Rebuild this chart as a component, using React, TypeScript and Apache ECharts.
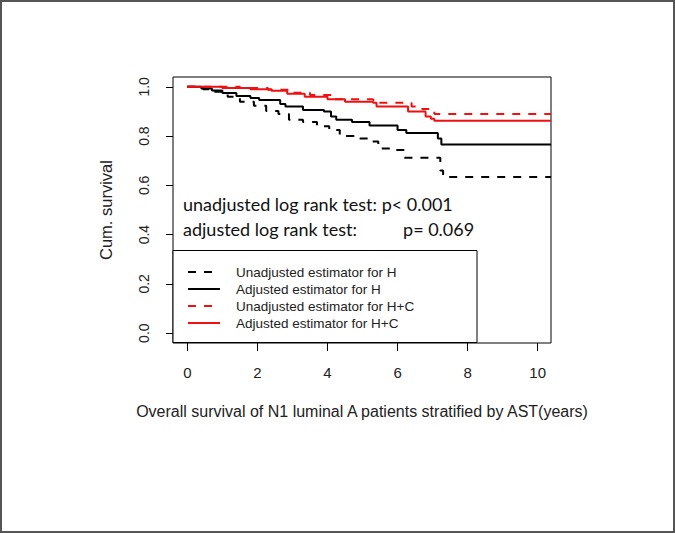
import React, { useEffect, useRef } from "react";
import * as echarts from "echarts";

// Kaplan-Meier style step curves (time in years, cumulative survival)
const unadjH_time = [0, 0.45, 0.78, 1.15, 1.5, 1.9, 2.25, 2.6, 2.9, 3.3, 3.7, 4.05, 4.35, 4.75, 5.2, 5.45, 5.8, 6.2, 7.22, 7.3, 10.38];
const unadjH_surv = [1.0, 0.99, 0.98, 0.96, 0.94, 0.923, 0.902, 0.89, 0.866, 0.857, 0.84, 0.825, 0.8, 0.79, 0.778, 0.75, 0.744, 0.712, 0.66, 0.634, 0.634];

const adjH_time = [0, 0.4, 0.7, 1.0, 1.4, 1.8, 2.05, 2.65, 2.8, 3.3, 3.9, 4.1, 4.25, 4.7, 5.2, 6.0, 6.25, 7.15, 7.25, 10.38];
const adjH_surv = [1.0, 0.993, 0.985, 0.975, 0.963, 0.955, 0.947, 0.93, 0.92, 0.906, 0.9, 0.88, 0.866, 0.857, 0.843, 0.825, 0.813, 0.79, 0.766, 0.766];

const unadjHC_time = [0, 1.5, 2.3, 2.9, 3.5, 4.2, 5.3, 5.45, 6.4, 6.7, 7.05, 10.38];
const unadjHC_surv = [1.0, 0.995, 0.988, 0.976, 0.967, 0.95, 0.947, 0.935, 0.92, 0.91, 0.89, 0.89];

const adjHC_time = [0, 1.0, 1.8, 2.4, 2.85, 3.35, 4.0, 4.5, 5.3, 5.4, 6.3, 6.8, 6.95, 7.05, 10.38];
const adjHC_surv = [1.0, 0.995, 0.99, 0.984, 0.972, 0.96, 0.95, 0.94, 0.935, 0.92, 0.9, 0.88, 0.87, 0.862, 0.862];

const xTicks = [0, 2, 4, 6, 8, 10];
const yTicks = [0, 0.2, 0.4, 0.6, 0.8, 1.0];

const seriesNames = [
  "Unadjusted estimator for H",
  "Adjusted estimator for H",
  "Unadjusted estimator for H+C",
  "Adjusted estimator for H+C",
];
const annotations = [
  "unadjusted log rank test: p< 0.001",
  "adjusted log rank test:          p= 0.069",
];
const xName = "Overall survival of N1 luminal A patients stratified by AST(years)";
const yName = "Cum. survival";

const RED = "#f01010";
const BLACK = "#000000";
const zip = (t: number[], s: number[]) => t.map((v, i) => [v, s[i]]);

export default function App() {
  const ref = useRef<HTMLDivElement>(null);
  useEffect(() => {
    if (!ref.current) return;
    const chart = echarts.init(ref.current, undefined, { renderer: "svg" });
    const curves = [
      { name: seriesNames[0], data: zip(unadjH_time, unadjH_surv), color: BLACK, dashed: true },
      { name: seriesNames[1], data: zip(adjH_time, adjH_surv), color: BLACK, dashed: false },
      { name: seriesNames[2], data: zip(unadjHC_time, unadjHC_surv), color: RED, dashed: true },
      { name: seriesNames[3], data: zip(adjHC_time, adjHC_surv), color: RED, dashed: false },
    ];
    const font = "'Liberation Sans', Arial, sans-serif";
    const legendLeft = 188;
    const legendTop = 272;
    const rowH = 17;
    const legendGraphics: any[] = [];
    curves.forEach((c, i) => {
      const y = legendTop + i * rowH;
      legendGraphics.push({
        type: "line",
        shape: { x1: legendLeft, y1: y, x2: legendLeft + 32, y2: y },
        style: { stroke: c.color, lineWidth: 2, lineDash: c.dashed ? [8, 8] : null },
      });
      legendGraphics.push({
        type: "text",
        x: 236,
        y: y,
        style: { text: c.name, fill: "#222", font: `13.5px ${font}`, textVerticalAlign: "middle" },
      });
    });
    chart.setOption({
      animation: false,
      backgroundColor: "#ffffff",
      grid: { left: 173, right: 124, top: 77, bottom: 190, show: true, borderColor: "#000", borderWidth: 1, backgroundColor: "transparent" },
      xAxis: {
        type: "value",
        min: -0.41,
        max: 10.38,
        name: xName,
        nameLocation: "middle",
        nameGap: 60,
        nameTextStyle: { fontSize: 16, color: "#222", fontFamily: font },
        axisLine: { show: false, onZero: false },
        splitLine: { show: false },
        axisTick: { show: true, length: 8, customValues: xTicks, lineStyle: { color: "#000" } },
        axisLabel: { customValues: xTicks, fontSize: 15, color: "#222", fontFamily: font, margin: 22 },
      },
      yAxis: {
        type: "value",
        min: -0.04,
        max: 1.04,
        name: yName,
        nameLocation: "middle",
        nameGap: 59,
        nameRotate: 90,
        nameTextStyle: { fontSize: 16.5, color: "#222", fontFamily: font },
        axisLine: { show: false, onZero: false },
        splitLine: { show: false },
        axisTick: { show: true, length: 7, customValues: yTicks, lineStyle: { color: "#000" } },
        axisLabel: {
          customValues: yTicks,
          rotate: 90,
          fontSize: 14,
          color: "#222",
          fontFamily: font,
          margin: 22,
          formatter: (v: number) => v.toFixed(1),
        },
      },
      series: curves.map((c) => ({
        type: "line",
        name: c.name,
        step: "end",
        data: c.data,
        showSymbol: false,
        symbol: "none",
        clip: true,
        lineStyle: { color: c.color, width: 2, type: c.dashed ? [8, 8] : "solid" },
        itemStyle: { color: c.color },
      })),
      graphic: [
        {
          type: "rect",
          shape: { x: 1, y: 1, width: 673, height: 531 },
          style: { fill: "none", stroke: "#555", lineWidth: 2 },
          silent: true,
        },
        {
          type: "rect",
          shape: { x: 173, y: 250.5, width: 304, height: 92 },
          style: { fill: "#fff", stroke: "#000", lineWidth: 1 },
          z: 10,
        },
        ...legendGraphics.map((g) => ({ ...g, z: 11 })),
        {
          type: "text",
          x: 183,
          y: 204,
          style: { text: annotations[0], fill: "#111", font: "18px Lato, 'Open Sans', sans-serif", textVerticalAlign: "middle" },
          z: 11,
        },
        {
          type: "text",
          x: 183,
          y: 229,
          style: { text: annotations[1], fill: "#111", font: "18px Lato, 'Open Sans', sans-serif", textVerticalAlign: "middle" },
          z: 11,
        },
      ],
    });
    return () => chart.dispose();
  }, []);
  return <div ref={ref} style={{ position: "fixed", left: 0, top: 0, width: 675, height: 533 }} />;
}
